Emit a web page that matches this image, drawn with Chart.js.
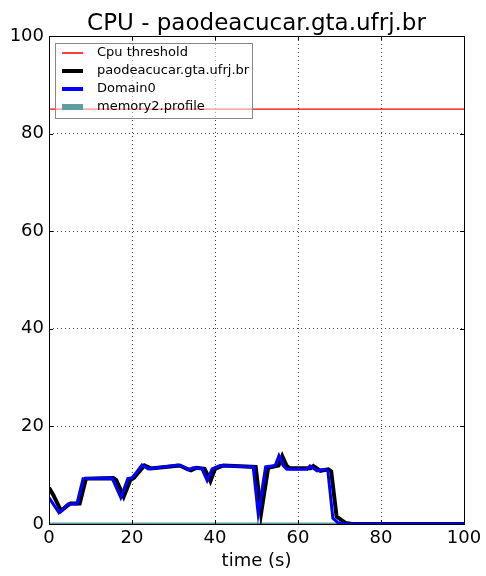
<!DOCTYPE html>
<html>
<head>
<meta charset="utf-8">
<script src="https://cdn.jsdelivr.net/npm/chart.js@4.4.1/dist/chart.umd.min.js"></script>
<style>
  html, body { margin: 0; padding: 0; background: #ffffff; }
  #wrap { width: 486px; height: 576px; position: relative; }
</style>
</head>
<body>
<div id="wrap"><canvas id="cpuChart"></canvas></div>
<script>
const chartTitle = "CPU - paodeacucar.gta.ufrj.br";
const xLabel = "time (s)";
const axisTicks = [0, 20, 40, 60, 80, 100];

const thresholdValue = 85;

// paodeacucar.gta.ufrj.br (black)
const hostTime = [0, 1, 2.9, 4.5, 5.2, 7.4, 8.9, 15.5, 16.2, 18, 19.6, 20.5, 21.5, 23, 24.5, 28, 31.5, 33, 34.2, 35.5, 37.5, 38.9, 40, 42, 49.8, 51.1, 52.8, 55.3, 56.2, 57.2, 58, 63, 63.7, 65.4, 67.3, 68, 69.3, 70.5, 71.5, 73, 100];
const hostCpu = [7.4, 6, 2.7, 3.8, 4.2, 4.2, 9.3, 9.4, 9.0, 5.6, 9.0, 9.5, 10.5, 12.0, 11.4, 11.7, 12.0, 11.4, 11.0, 11.5, 11.3, 8.8, 11.3, 12, 11.7, 2.2, 11.5, 12, 13.9, 12, 11.4, 11.4, 11.9, 10.9, 11.2, 10.8, 1.5, 0.8, 0.2, 0, 0];

// Domain0 (blue)
const domTime = [0, 2.4, 4.6, 6.7, 8.2, 15.2, 17.3, 19, 20, 21, 22.4, 23.9, 27.5, 31, 32.3, 33.5, 34.7, 36.8, 38.1, 39.3, 41.2, 49.2, 50.4, 52.2, 54.5, 55.4, 56.4, 57.3, 62.2, 62.9, 64.6, 66.5, 67.2, 68.4, 69.6, 71, 100];
const domCpu = [5.4, 2.3, 4.1, 4.1, 9.3, 9.4, 5.4, 9.3, 9.5, 10.5, 12.1, 11.3, 11.7, 12.1, 11.7, 11.1, 11.5, 11.4, 8.9, 11.3, 12, 11.7, 2.1, 11.7, 12, 14, 12, 11.2, 11.2, 11.9, 10.9, 11.2, 10.8, 1.2, 0.3, 0, 0];

// memory2.profile (teal)
const memTime = [0, 100];
const memCpu = [0, 0];

const toPoints = (xs, ys) => xs.map((x, i) => ({ x: x, y: ys[i] }));

const FONT = "'DejaVu Sans', 'Bitstream Vera Sans', sans-serif";

const frameAndLegend = {
  id: "frameAndLegend",
  afterDraw: (chart) => {
    const { ctx, chartArea: a, scales } = chart;
    ctx.save();

    // title centred over the axes
    ctx.fillStyle = "#000";
    ctx.font = "23px " + FONT;
    ctx.textAlign = "center";
    ctx.textBaseline = "alphabetic";
    ctx.fillText(chartTitle, (a.left + a.right) / 2, a.top - 6);
    ctx.textAlign = "left";

    // inward tick marks on all four sides
    ctx.strokeStyle = "#000";
    ctx.lineWidth = 1;
    axisTicks.forEach((t) => {
      const px = Math.round(scales.x.getPixelForValue(t)) + 0.5;
      const py = Math.round(scales.y.getPixelForValue(t)) + 0.5;
      ctx.beginPath();
      ctx.moveTo(px, a.bottom); ctx.lineTo(px, a.bottom - 4);
      ctx.moveTo(px, a.top); ctx.lineTo(px, a.top + 4);
      ctx.moveTo(a.left, py); ctx.lineTo(a.left + 4, py);
      ctx.moveTo(a.right, py); ctx.lineTo(a.right - 4, py);
      ctx.stroke();
    });

    // plot frame
    ctx.strokeRect(Math.round(a.left) + 0.5, Math.round(a.top) + 0.5,
      Math.round(a.right - a.left), Math.round(a.bottom - a.top));

    // legend box inside the axes, upper left
    const lx = a.left + 6, ly = a.top + 7, lw = 197, lh = 75;
    ctx.fillStyle = "rgba(255,255,255,0.55)";
    ctx.fillRect(lx, ly, lw, lh);
    ctx.strokeStyle = "#888";
    ctx.strokeRect(lx + 0.5, ly + 0.5, lw, lh);

    const items = [3, 0, 1, 2].map((i) => chart.data.datasets[i]);
    ctx.font = "13px " + FONT;
    ctx.textBaseline = "middle";
    items.forEach((ds, k) => {
      const y = ly + 10 + k * 18;
      ctx.strokeStyle = ds.borderColor;
      ctx.lineWidth = ds.legendWidth;
      ctx.beginPath();
      ctx.moveTo(lx + 7, y);
      ctx.lineTo(lx + 28, y);
      ctx.stroke();
      ctx.fillStyle = "#000";
      ctx.fillText(ds.label, lx + 42, y);
    });
    ctx.restore();
  },
};

const lineDefaults = {
  fill: false,
  pointRadius: 0,
  pointHoverRadius: 0,
  tension: 0,
};

new Chart(document.getElementById("cpuChart").getContext("2d"), {
  type: "line",
  data: {
    datasets: [
      {
        ...lineDefaults,
        label: "paodeacucar.gta.ufrj.br",
        data: toPoints(hostTime, hostCpu),
        borderColor: "#000000",
        borderWidth: 4,
        legendWidth: 4,
        order: 2,
      },
      {
        ...lineDefaults,
        label: "Domain0",
        data: toPoints(domTime, domCpu),
        borderColor: "#0000ff",
        borderWidth: 3,
        legendWidth: 4,
        order: 1,
      },
      {
        ...lineDefaults,
        label: "memory2.profile",
        data: toPoints(memTime, memCpu),
        borderColor: "#5f9ea0",
        borderWidth: 3,
        legendWidth: 6,
        order: 3,
      },
      {
        ...lineDefaults,
        label: "Cpu threshold",
        data: toPoints([0, 100], [thresholdValue, thresholdValue]),
        borderColor: "#ff0000",
        borderWidth: 1.2,
        legendWidth: 1.5,
        order: 4,
      },
    ],
  },
  options: {
    responsive: true,
    maintainAspectRatio: false,
    animation: false,
    layout: {
      padding: { top: 36, right: 22, bottom: 0, left: 0 },
    },
    scales: {
      x: {
        type: "linear",
        min: 0,
        max: 100,
        afterFit: (scale) => { scale.height = 52; },
        afterBuildTicks: (scale) => { scale.ticks = axisTicks.map((v) => ({ value: v })); },
        grid: { color: "#444", lineWidth: 1, drawTicks: false },
        border: { display: false, dash: [1, 3] },
        ticks: {
          color: "#000",
          padding: 4,
          font: { family: FONT, size: 18 },
        },
        title: {
          display: true,
          text: xLabel,
          color: "#000",
          font: { family: FONT, size: 18 },
          padding: { top: 0, bottom: 4 },
        },
      },
      y: {
        min: 0,
        max: 100,
        afterFit: (scale) => { scale.width = 49; },
        afterBuildTicks: (scale) => { scale.ticks = axisTicks.map((v) => ({ value: v })); },
        grid: { color: "#444", lineWidth: 1, drawTicks: false },
        border: { display: false, dash: [1, 3] },
        ticks: {
          color: "#000",
          padding: 5,
          font: { family: FONT, size: 18 },
        },
      },
    },
    plugins: {
      legend: { display: false },
      tooltip: { enabled: false },
      title: { display: false },
    },
  },
  plugins: [frameAndLegend],
});
</script>
</body>
</html>
